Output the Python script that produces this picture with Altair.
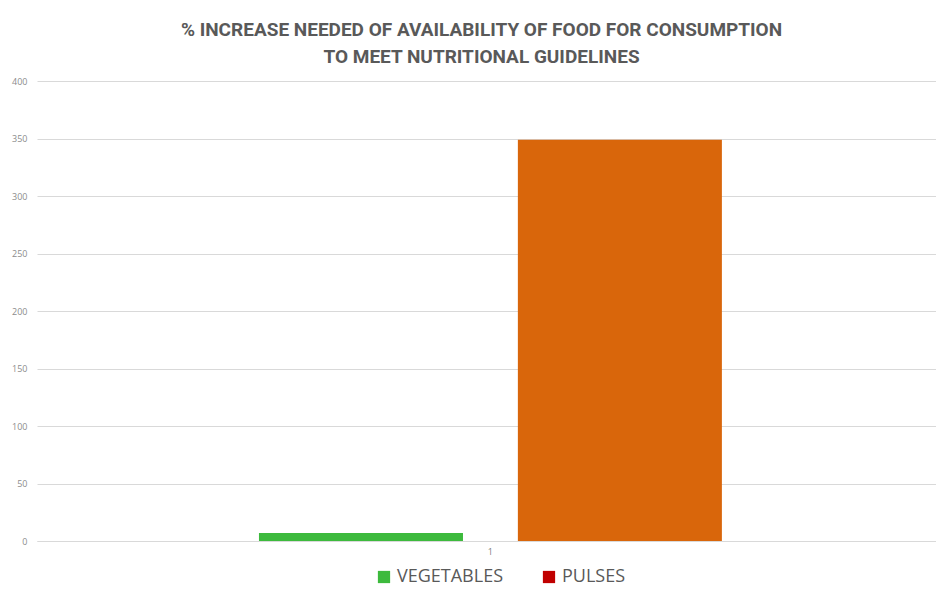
import altair as alt
import pandas as pd

# Data
groups = ["1", "1"]
series = ["VEGETABLES", "PULSES"]
values = [7, 349]
bar_colors = ["#3DBA3D", "#D9660B"]
legend_colors = ["#3DBA3D", "#C00000"]
y_ticks = [0, 50, 100, 150, 200, 250, 300, 350, 400]

df = pd.DataFrame({"group": groups, "series": series, "value": values})

title_lines = [
    "% INCREASE NEEDED OF AVAILABILITY OF FOOD FOR CONSUMPTION",
    "TO MEET NUTRITIONAL GUIDELINES",
]

x_enc = alt.X(
    "group:N",
    scale=alt.Scale(paddingInner=0, paddingOuter=0.471, align=0.509),
    axis=alt.Axis(
        title=None, labelAngle=0, ticks=False, domain=True, domainColor="#D9D9D9",
        grid=False, labelFontSize=9, labelColor="#7F7F7F", labelPadding=6,
        labelFont="Open Sans",
    ),
)
xo_enc = alt.XOffset(
    "series:N",
    sort=series,
    scale=alt.Scale(paddingInner=0.212, paddingOuter=0),
)
y_enc = alt.Y(
    "value:Q",
    scale=alt.Scale(domain=[0, 400], nice=False),
    axis=alt.Axis(
        title=None, values=y_ticks, ticks=False, domain=False,
        gridColor="#D9D9D9", labelFontSize=9, labelColor="#8C8C8C",
        labelPadding=10, labelFont="Open Sans",
    ),
)

bars = alt.Chart(df).mark_bar().encode(
    x=x_enc,
    xOffset=xo_enc,
    y=y_enc,
    color=alt.Color(
        "series:N", sort=series,
        scale=alt.Scale(domain=series, range=bar_colors), legend=None,
    ),
)

legend_layer = alt.Chart(df).mark_square(opacity=0).encode(
    x=x_enc,
    xOffset=xo_enc,
    y=y_enc,
    color=alt.Color(
        "series:N", sort=series,
        scale=alt.Scale(domain=series, range=legend_colors),
        legend=alt.Legend(
            title=None, orient="none", direction="horizontal",
            legendX=338, legendY=487, padding=0,
            symbolType="square", symbolSize=150, symbolOpacity=1,
            symbolStrokeWidth=0, labelFontSize=18, labelColor="#595959",
            labelFont="Open Sans", columnPadding=36, labelOffset=4,
        ),
    ),
)

chart = alt.layer(bars, legend_layer).resolve_scale(
    color="independent"
).resolve_legend(
    color="independent"
).properties(
    width=899,
    height=460,
    background="white",
    autosize=alt.AutoSizeParams(type="none"),
    padding={"left": 29, "top": 73, "right": 0, "bottom": 47},
    title=alt.TitleParams(
        text=title_lines, anchor="middle", fontSize=19, font="Roboto",
        fontWeight="bold", color="#595959", lineHeight=27, offset=10, dx=-5,
    ),
).configure_view(stroke=None)

chart.save("out.html", embed_options={"renderer": "svg", "actions": False})
